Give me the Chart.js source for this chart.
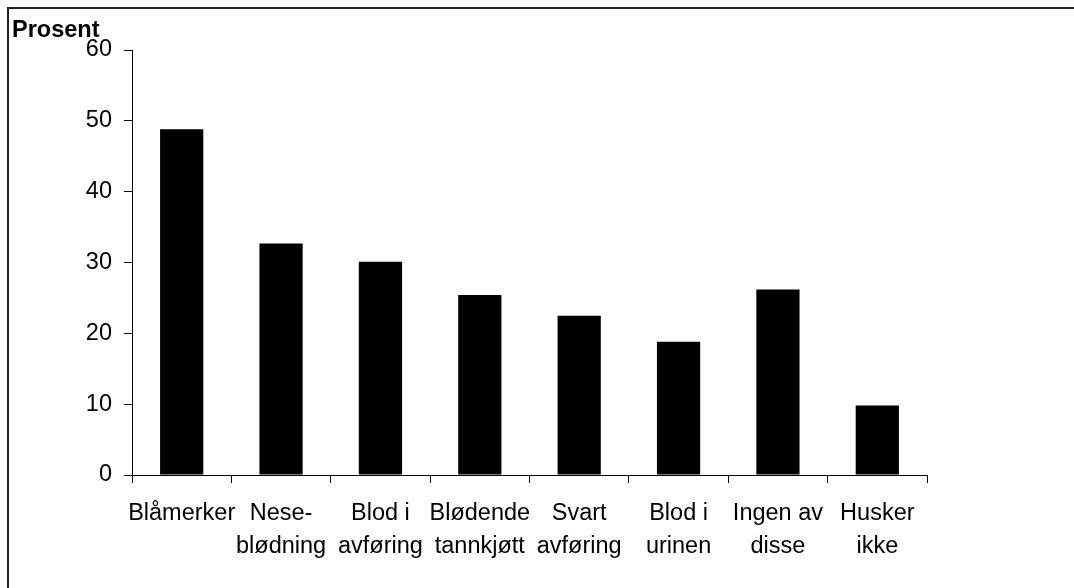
<!DOCTYPE html>
<html>
<head>
<meta charset="utf-8">
<script src="https://cdn.jsdelivr.net/npm/chart.js@4/dist/chart.umd.min.js"></script>
<style>
  html, body { margin: 0; padding: 0; background: #fff; overflow: hidden; }
  #frame {
    position: absolute; left: 7px; top: 7px; width: 1100px; height: 620px;
    border: 2px solid #222; box-sizing: border-box;
  }
  #wrap { position: absolute; left: 0; top: 0; width: 1074px; height: 588px; }
</style>
</head>
<body>
<div id="frame"></div>
<div id="wrap"><canvas id="c" width="1074" height="588"></canvas></div>
<script>
// Symptomer: andel (prosent) per kategori
const categories = [
  ['Blåmerker'],
  ['Nese-', 'blødning'],
  ['Blod i', 'avføring'],
  ['Blødende', 'tannkjøtt'],
  ['Svart', 'avføring'],
  ['Blod i', 'urinen'],
  ['Ingen av', 'disse'],
  ['Husker', 'ikke']
];
const values = [48.8, 32.7, 30.1, 25.4, 22.5, 18.8, 26.2, 9.8];
const yTicks = [0, 10, 20, 30, 40, 50, 60];

const FONT = '"Liberation Sans", Arial, sans-serif';

// Enhetstekst over y-aksen
const unitLabel = {
  id: 'unitLabel',
  afterDraw(chart) {
    const ctx = chart.ctx;
    ctx.save();
    ctx.fillStyle = '#000';
    ctx.font = 'bold 23.5px ' + FONT;
    ctx.textAlign = 'left';
    ctx.textBaseline = 'alphabetic';
    ctx.fillText('Prosent', 12, 37);
    ctx.restore();
  }
};

new Chart(document.getElementById('c'), {
  type: 'bar',
  data: {
    labels: categories,
    datasets: [{
      data: values,
      backgroundColor: '#000',
      borderWidth: 0,
      categoryPercentage: 1,
      barPercentage: 0.435
    }]
  },
  options: {
    responsive: false,
    animation: false,
    events: [],
    layout: { padding: { left: 0, right: 147, top: 50, bottom: 0 } },
    plugins: { legend: { display: false }, tooltip: { enabled: false }, title: { display: false } },
    scales: {
      x: {
        offset: true,
        grid: {
          offset: true,
          drawOnChartArea: false,
          drawTicks: true,
          tickLength: 8,
          color: '#000',
          lineWidth: 1
        },
        border: { color: '#000', width: 1 },
        ticks: {
          color: '#000',
          font: { family: FONT, size: 23.5, lineHeight: 1.39 },
          padding: 14.5,
          maxRotation: 0,
          minRotation: 0,
          autoSkip: false
        },
        afterFit(scale) { scale.height = 113; }
      },
      y: {
        min: 0,
        max: 60,
        afterBuildTicks(scale) { scale.ticks = yTicks.map(v => ({ value: v })); },
        grid: {
          drawOnChartArea: false,
          drawTicks: true,
          tickLength: 8,
          color: '#000',
          lineWidth: 1
        },
        border: { color: '#000', width: 1 },
        ticks: {
          color: '#000',
          font: { family: FONT, size: 23.5 },
          padding: 12
        },
        afterFit(scale) { scale.width = 132; }
      }
    }
  },
  plugins: [unitLabel]
});
</script>
</body>
</html>
